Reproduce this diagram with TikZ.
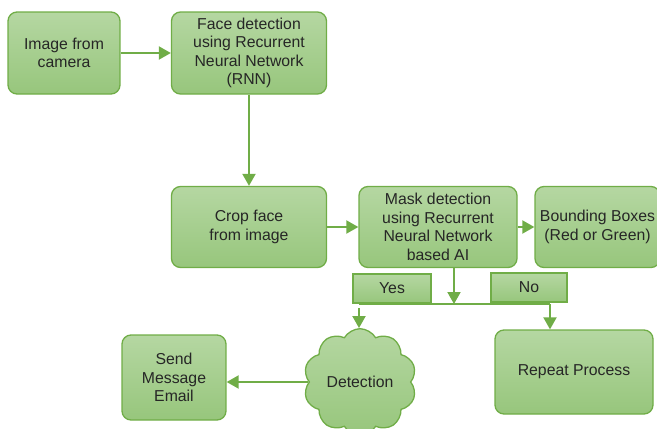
\documentclass[tikz,border=0pt]{standalone}
\usepackage{fontspec}
\setmainfont{Liberation Sans}
\usetikzlibrary{arrows.meta,shapes.symbols}
\definecolor{boxtop}{HTML}{B5D7A2}
\definecolor{boxbot}{HTML}{97C67C}
\definecolor{edge}{HTML}{70AD47}
\definecolor{ink}{HTML}{262626}
\tikzset{
  blk/.style={rectangle,rounded corners=9pt,draw=edge,line width=1.3pt,
    top color=boxtop,bottom color=boxbot,text=ink,align=center,inner sep=2pt,
    font=\fontsize{15.8}{18.5}\selectfont},
  tag/.style={blk,rounded corners=0pt},
  arr/.style={draw=edge,line width=2pt,-{Triangle[length=12pt,width=13pt]}},
}
\begin{document}
\begin{tikzpicture}[x=1pt,y=-1pt] % one unit = one pixel of the reference
      \clip (0,0) rectangle (657,429);

      % Top row
      \node[blk,minimum width=112,minimum height=82] (cam) at (64,53) {Image from\\camera};
      \node[blk,minimum width=155,minimum height=82] (rnn) at (249,53)
        {Face detection\\using Recurrent\\Neural Network\\(RNN)};

      % Middle row
      \node[blk,minimum width=155,minimum height=81] (crop) at (249,227) {Crop face\\from image};
      \node[blk,minimum width=158,minimum height=81] (mask) at (438,227)
        {Mask detection\\using Recurrent\\Neural Network\\based AI};
      \node[blk,minimum width=125,minimum height=81] (bbox) at (597.5,227)
        {Bounding Boxes\\(Red or Green)};

      % Decision labels
      \node[tag,minimum width=78,minimum height=29] (yes) at (392,288.5) {Yes};
      \node[tag,minimum width=76,minimum height=29] (no) at (529,287.5) {No};

      % Bottom row
      \node[cloud,cloud puffs=10,cloud puff arc=120,draw=edge,line width=1.3pt,
        top color=boxtop,bottom color=boxbot,text=ink,inner sep=0pt,
        minimum width=113,minimum height=106,
        font=\fontsize{15.8}{18.5}\selectfont] (det) at (360,382) {Detection};
      \node[blk,minimum width=104,minimum height=85] (send) at (174,377.5)
        {Send\\Message\\Email};
      \node[blk,minimum width=158,minimum height=84] (rep) at (574,372) {Repeat Process};

      % Split line below the mask detection box
      \coordinate (jn) at (454,304);
      \coordinate (la) at (359,304);
      \coordinate (lb) at (550,304);
      \draw[edge,line width=1.5pt] (la) -- (lb);

      % Connectors
      \draw[arr] (cam.east) -- (rnn.west);
      \draw[arr] (rnn.south) -- (crop.north);
      \draw[arr] (crop.east) -- (mask.west);
      \draw[arr] (mask.east) -- (bbox.west);
      \draw[arr] (mask.south -| jn) -- (jn);
      \draw[arr] ([yshift=-4pt]la.center) -- (la |- det.north);
      \draw[arr] (lb) -- (lb |- rep.north);
      \draw[arr] (det.west) -- (det.west -| send.east);
    \end{tikzpicture}
\end{document}
